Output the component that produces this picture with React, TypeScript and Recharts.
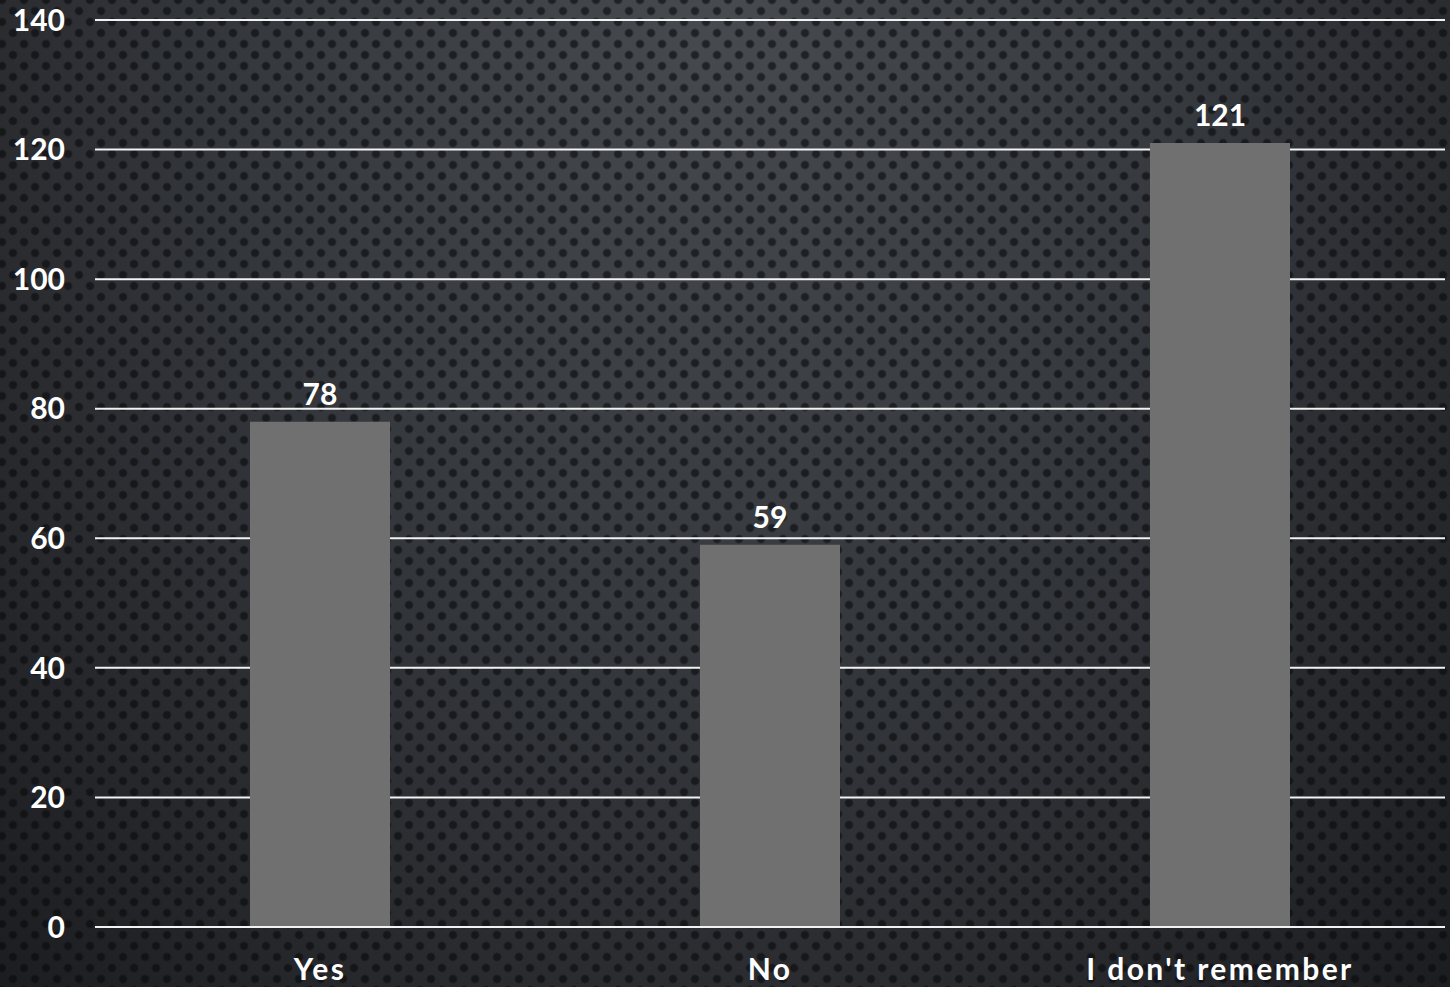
import { BarChart, Bar, XAxis, YAxis, CartesianGrid, LabelList } from 'recharts';

const categories = ['Yes', 'No', "I don't remember"];
const counts = [78, 59, 121];
const yTicks = [0, 20, 40, 60, 80, 100, 120, 140];

const data = categories.map((name, i) => ({ name, value: counts[i] }));

const FONT = 'Lato, "Noto Sans", sans-serif';

export default function App() {
  return (
    <div
      style={{
        position: 'absolute',
        top: 0,
        left: 0,
        width: 1450,
        height: 987,
        overflow: 'hidden',
        backgroundColor: '#2c2e32',
        backgroundImage: [
          'radial-gradient(circle, rgba(8,9,11,0.6) 3px, rgba(8,9,11,0) 5px)',
          'radial-gradient(circle, rgba(8,9,11,0.6) 3px, rgba(8,9,11,0) 5px)',
          'radial-gradient(ellipse at 50% 0%, #474a4f 0%, #36393e 45%, #1c1d20 100%)',
        ].join(','),
        backgroundSize: '22px 22px, 22px 22px, 100% 100%',
        backgroundPosition: '2px 0px, 13px 11px, 0 0',
      }}
    >
      <BarChart
        width={1450}
        height={987}
        data={data}
        margin={{ top: 20, right: 5, left: 0, bottom: 0 }}
        barSize={140}
      >
        <CartesianGrid vertical={false} stroke="#f2f2f2" strokeWidth={2} />
        <XAxis
          dataKey="name"
          height={60}
          axisLine={{ stroke: '#f2f2f2', strokeWidth: 2 }}
          tickLine={false}
          tickSize={0}
          tickMargin={32}
          tick={{ fill: '#ffffff', fontSize: 30, fontWeight: 700, fontFamily: FONT, letterSpacing: 2.4 }}
          interval={0}
        />
        <YAxis
          width={95}
          domain={[0, 140]}
          ticks={yTicks}
          axisLine={false}
          tickLine={false}
          tickSize={0}
          tickMargin={30}
          tick={{ fill: '#ffffff', fontSize: 30, fontWeight: 700, fontFamily: FONT }}
        />
        <Bar dataKey="value" fill="#707070" isAnimationActive={false}>
          <LabelList
            dataKey="value"
            position="top"
            offset={17}
            fill="#ffffff"
            fontSize={30}
            fontWeight={700}
            fontFamily={FONT}
          />
        </Bar>
      </BarChart>
    </div>
  );
}
